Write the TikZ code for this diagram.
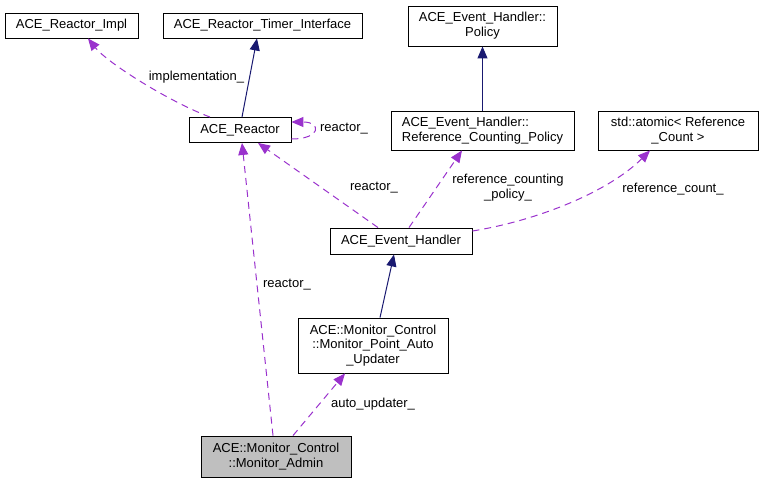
\documentclass[tikz,border=0pt]{standalone}
\usepackage{fontspec}
\setmainfont{Liberation Sans}
\usetikzlibrary{arrows.meta}
\definecolor{inheritblue}{HTML}{191970}
\definecolor{usepurple}{HTML}{9A32CD}
\definecolor{adminfill}{HTML}{BFBFBF}
\tikzset{classbox/.style={draw=black, line width=0.9pt, inner sep=0pt,
        align=center, font=\fontsize{13}{14.8}\selectfont},
    inherit/.style={draw=inheritblue, line width=1pt,
        -{Triangle[length=12pt,width=10pt]}},
    uses/.style={draw=usepurple, line width=1pt, dash pattern=on 7pt off 5pt,
        -{Triangle[length=12pt,width=10pt]}},
    edgelabel/.style={font=\fontsize{13}{14.8}\selectfont, align=center, inner sep=0pt},
    }

\begin{document}
\begin{tikzpicture}[x=1pt,y=-1pt]
	\useasboundingbox (0,0) rectangle (762,483);
	% classes
	\node[classbox, minimum width=133pt, minimum height=25pt] (impl) at (71.5,25.5) {ACE\_Reactor\_Impl};
	\node[classbox, minimum width=199pt, minimum height=25pt] (timer) at (262.5,25.5) {ACE\_Reactor\_Timer\_Interface};
	\node[classbox, minimum width=102pt, minimum height=25pt] (reactor) at (240,130) {ACE\_Reactor};
	\node[classbox, minimum width=149pt, minimum height=40pt] (policy) at (482.5,26) {ACE\_Event\_Handler::\\Policy};
	\node[classbox, align=left, minimum width=183pt, minimum height=39pt] (refpolicy) at (482.5,130.5) {ACE\_Event\_Handler::\\Reference\_Counting\_Policy};
	\node[classbox, minimum width=160pt, minimum height=39pt] (atomic) at (678,130.5) {std::atomic< Reference\\\_Count >};
	\node[classbox, minimum width=142pt, minimum height=26pt] (handler) at (401,241) {ACE\_Event\_Handler};
	\node[classbox, minimum width=150pt, minimum height=55pt] (updater) at (373,345.5) {ACE::Monitor\_Control\\::Monitor\_Point\_Auto\\\_Updater};
	\node[classbox, fill=adminfill, minimum width=150pt, minimum height=41pt] (admin) at (276,456.5) {ACE::Monitor\_Control\\::Monitor\_Admin};
	% inheritance
	\draw[inherit] ([xshift=2pt]reactor.north) -- ([xshift=-5.5pt]timer.south);
	\draw[inherit] (refpolicy.north) -- (policy.south);
	\draw[inherit] ([xshift=7pt]updater.north) -- ([xshift=-7pt]handler.south);
	% members
	\draw[uses] ([xshift=-30pt]reactor.north) .. controls +(-40,-15) and +(20,25) .. ([xshift=16.5pt]impl.south);
	\draw[uses] ([yshift=-9pt]reactor.east) .. controls +(30,0) and +(30,0) .. ([yshift=8pt]reactor.east);
	\draw[uses] ([xshift=-23pt]handler.north) -- ([xshift=18pt]reactor.south);
	\draw[uses] ([xshift=8pt]handler.north) -- ([xshift=-20.5pt]refpolicy.south);
	\draw[uses] ([yshift=10pt]handler.east) .. controls +(68,-11) and +(-40,40) .. ([xshift=-28pt]atomic.south);
	\draw[uses] ([xshift=-3pt]admin.north) -- ([xshift=2pt]reactor.south);
	\draw[uses] ([xshift=17pt]admin.north) -- ([xshift=-28pt]updater.south);
	% labels
	\node[edgelabel] (implLabel) at (196.5,77) {implementation\_};
	\node[edgelabel] (selfLabel) at (344,129) {reactor\_};
	\node[edgelabel] (handlerLabel) at (374,188) {reactor\_};
	\node[edgelabel] (refpolLabel) at (508,188) {reference\_counting\\\_policy\_};
	\node[edgelabel] (countLabel) at (673,189) {reference\_count\_};
	\node[edgelabel] (adminLabel) at (287,285) {reactor\_};
	\node[edgelabel] (updaterLabel) at (373,404) {auto\_updater\_};
\end{tikzpicture}
\end{document}
